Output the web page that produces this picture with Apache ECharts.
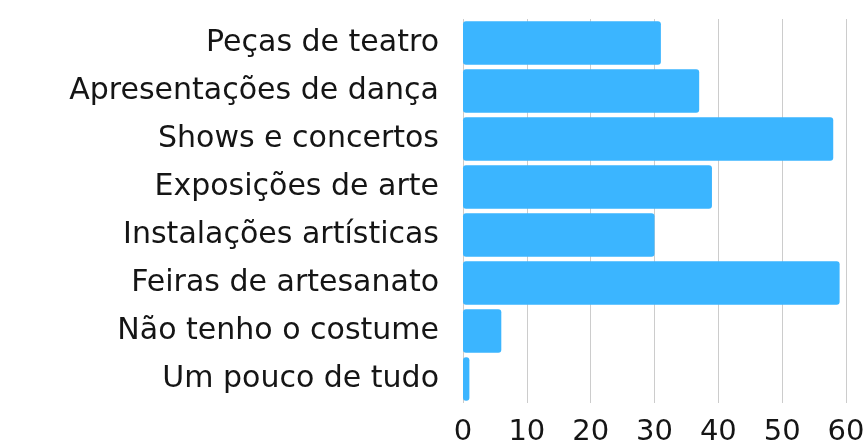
<!DOCTYPE html>
<html>
<head>
<meta charset="utf-8">
<script src="https://cdn.jsdelivr.net/npm/echarts@6/dist/echarts.min.js"></script>
<style>
  html, body { margin: 0; padding: 0; background: #fff; }
  #chart { width: 866px; height: 446px; }
</style>
</head>
<body>
<div id="chart"></div>
<script>
var categories = [
  'Peças de teatro',
  'Apresentações de dança',
  'Shows e concertos',
  'Exposições de arte',
  'Instalações artísticas',
  'Feiras de artesanato',
  'Não tenho o costume',
  'Um pouco de tudo'
];
var values = [31, 37, 58, 39, 30, 59, 6, 1];

var chart = echarts.init(document.getElementById('chart'));
var option = {
  animation: false,
  grid: {
    left: 463,
    right: 20,
    top: 19,
    bottom: 43,
    outerBoundsMode: 'none'
  },
  xAxis: {
    type: 'value',
    min: 0,
    max: 60,
    interval: 10,
    axisLine: { show: false },
    axisTick: { show: false },
    axisLabel: {
      color: '#151515',
      fontFamily: 'DejaVu Sans',
      fontSize: 29,
      margin: 15
    },
    splitLine: {
      lineStyle: { color: '#cccccc', width: 1 }
    }
  },
  yAxis: {
    type: 'category',
    data: categories,
    inverse: true,
    axisLine: { show: false },
    axisTick: { show: false },
    axisLabel: {
      color: '#151515',
      fontFamily: 'DejaVu Sans',
      fontSize: 30,
      margin: 24
    }
  },
  series: [{
    type: 'bar',
    data: values,
    barCategoryGap: '9%',
    itemStyle: {
      color: '#3bb5ff',
      borderRadius: 3
    }
  }]
};
chart.setOption(option);
</script>
</body>
</html>
